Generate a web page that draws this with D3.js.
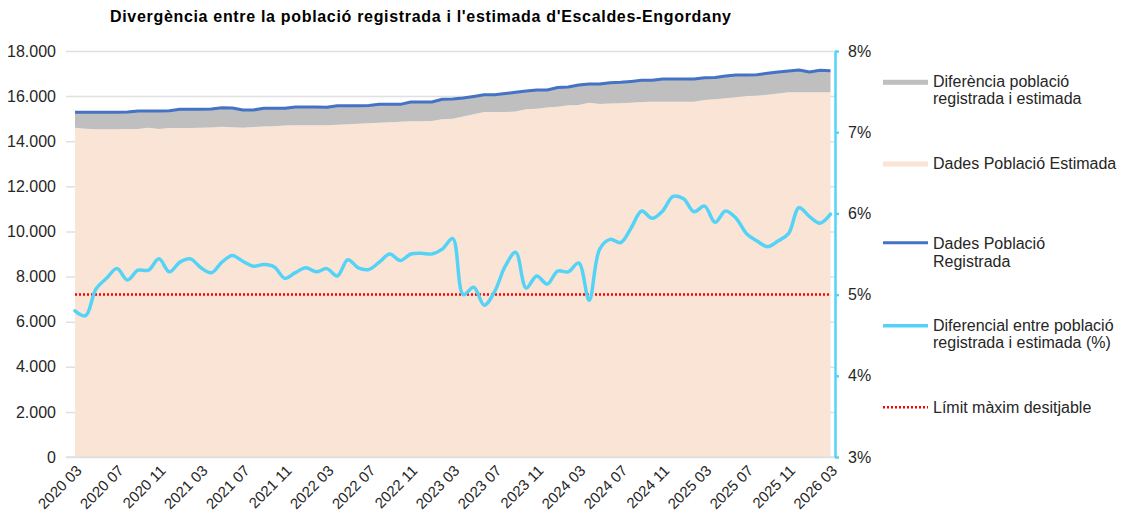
<!DOCTYPE html>
<html>
<head>
<meta charset="utf-8">
<script src="https://cdn.jsdelivr.net/npm/d3@7/dist/d3.min.js"></script>
<style>
  html, body { margin: 0; padding: 0; background: #fff; }
  svg { display: block; font-family: "Liberation Sans", Arial, sans-serif; }
</style>
</head>
<body>
<svg id="chart" width="1121" height="519"></svg>
<script>
// ---------- DATA ----------
const months = [
  "2020 03","2020 04","2020 05","2020 06","2020 07","2020 08","2020 09","2020 10","2020 11","2020 12",
  "2021 01","2021 02","2021 03","2021 04","2021 05","2021 06","2021 07","2021 08","2021 09","2021 10","2021 11","2021 12",
  "2022 01","2022 02","2022 03","2022 04","2022 05","2022 06","2022 07","2022 08","2022 09","2022 10","2022 11","2022 12",
  "2023 01","2023 02","2023 03","2023 04","2023 05","2023 06","2023 07","2023 08","2023 09","2023 10","2023 11","2023 12",
  "2024 01","2024 02","2024 03","2024 04","2024 05","2024 06","2024 07","2024 08","2024 09","2024 10","2024 11","2024 12",
  "2025 01","2025 02","2025 03","2025 04","2025 05","2025 06","2025 07","2025 08","2025 09","2025 10","2025 11","2025 12",
  "2026 01","2026 02","2026 03"
];

const tickLabels = ["2020 03","2020 07","2020 11","2021 03","2021 07","2021 11","2022 03","2022 07","2022 11",
  "2023 03","2023 07","2023 11","2024 03","2024 07","2024 11","2025 03","2025 07","2025 11","2026 03"];

// Dades Població Registrada
const registrada = [
  15280,15280,15280,15280,15280,15295,15340,15340,15340,15355,
  15415,15415,15420,15430,15480,15475,15385,15385,15460,15460,15460,15515,
  15515,15515,15505,15575,15575,15575,15585,15635,15635,15635,15740,15740,
  15740,15860,15870,15915,15985,16060,16060,16115,16170,16225,16270,16270,
  16380,16405,16495,16535,16535,16595,16610,16650,16700,16705,16760,16760,
  16760,16760,16815,16825,16890,16935,16935,16950,17010,17070,17115,17155,
  17070,17145,17125
];

// Dades Població Estimada
const estimada = [
  14600,14550,14530,14530,14535,14540,14540,14595,14540,14585,
  14585,14590,14595,14610,14640,14620,14600,14630,14650,14660,14695,14705,
  14710,14710,14705,14735,14755,14775,14795,14815,14840,14860,14885,14890,
  14895,14970,15000,15095,15195,15295,15295,15295,15315,15415,15435,15495,
  15530,15595,15605,15705,15650,15670,15680,15710,15740,15750,15750,15750,
  15750,15750,15825,15860,15900,15950,16005,16015,16060,16115,16170,16170,
  16170,16170,16170
];

// Diferencial entre població registrada i estimada (%)
const diferencial = [
  4.80,4.74,5.07,5.20,5.32,5.18,5.30,5.30,5.44,5.28,
  5.40,5.44,5.33,5.27,5.40,5.48,5.41,5.35,5.37,5.34,5.20,5.27,
  5.33,5.28,5.32,5.23,5.43,5.33,5.31,5.40,5.50,5.42,5.50,5.51,
  5.50,5.56,5.69,5.00,5.09,4.87,5.04,5.35,5.52,5.08,5.23,5.13,
  5.29,5.28,5.39,4.93,5.56,5.68,5.64,5.82,6.03,5.94,6.03,6.21,
  6.18,6.02,6.09,5.89,6.03,5.94,5.75,5.66,5.59,5.66,5.75,6.07,
  5.96,5.88,5.99
];

const limit = 5; // Límit màxim desitjable (%)

const leftTicks = [0,2000,4000,6000,8000,10000,12000,14000,16000,18000];
const rightTicks = [3,4,5,6,7,8];

const title = "Divergència entre la població registrada i l'estimada d'Escaldes-Engordany";
const legendItems = [
  {key:"diff", lines:["Diferència població","registrada i estimada"]},
  {key:"est",  lines:["Dades Població Estimada"]},
  {key:"reg",  lines:["Dades Població","Registrada"]},
  {key:"pct",  lines:["Diferencial entre població","registrada i estimada (%)"]},
  {key:"lim",  lines:["Límit màxim desitjable"]}
];

// ---------- STYLE ----------
const C = {
  est: "#FAE4D6", diff: "#BFBFBF", reg: "#4472C4", pct: "#55D3F6",
  lim: "#FF0000", grid: "#E0E0E0", text: "#262626"
};

// ---------- SCALES ----------
const svg = d3.select("#chart");
const x = d3.scalePoint().domain(months).range([75, 830.5]);
const yL = d3.scaleLinear().domain([0, 18000]).range([457, 51]);
const yR = d3.scaleLinear().domain([3, 8]).range([457, 51]);

const loc = d3.formatLocale({decimal: ",", thousands: ".", grouping: [3], currency: ["", "€"]});
const fmt = loc.format(",.0f");

// ---------- GRID / LEFT AXIS ----------
const gL = svg.append("g").attr("transform", "translate(66,0)")
  .call(d3.axisLeft(yL).tickValues(leftTicks).tickFormat(fmt)
    .tickSizeInner(-(835 - 66)).tickSizeOuter(0).tickPadding(10));
gL.select(".domain").remove();
gL.selectAll(".tick line").attr("stroke", C.grid).attr("stroke-width", 1.5);
gL.selectAll(".tick text").attr("fill", C.text).style("font-size", "16px")
  .style("font-family", "'Liberation Sans', Arial, sans-serif");

// ---------- AREAS ----------
const idx = d3.range(months.length);
svg.append("path")
  .attr("fill", C.est)
  .attr("d", d3.area().x(i => x(months[i])).y0(yL(0)).y1(i => yL(estimada[i]))(idx));
svg.append("path")
  .attr("fill", C.diff)
  .attr("d", d3.area().x(i => x(months[i])).y0(i => yL(estimada[i])).y1(i => yL(registrada[i]))(idx));

// zero line on top of area bottom
svg.append("line").attr("x1", 66).attr("x2", 835).attr("y1", yL(0)).attr("y2", yL(0))
  .attr("stroke", C.grid).attr("stroke-width", 1.5);

// ---------- REGISTERED LINE ----------
svg.append("path")
  .attr("fill", "none").attr("stroke", C.reg).attr("stroke-width", 3).attr("stroke-linejoin", "round")
  .attr("d", d3.line().x(i => x(months[i])).y(i => yL(registrada[i]))(idx));

// ---------- LIMIT LINE ----------
svg.append("line")
  .attr("x1", x(months[0])).attr("x2", x(months[months.length - 1]))
  .attr("y1", yR(limit)).attr("y2", yR(limit))
  .attr("stroke", C.lim).attr("stroke-width", 2.5).attr("stroke-dasharray", "2 2");

// ---------- PERCENT LINE ----------
svg.append("path")
  .attr("fill", "none").attr("stroke", C.pct).attr("stroke-width", 3.5)
  .attr("stroke-linejoin", "round").attr("stroke-linecap", "round")
  .attr("d", d3.line().x(i => x(months[i])).y(i => yR(diferencial[i])).curve(d3.curveCatmullRom.alpha(0.5))(idx));

// ---------- RIGHT AXIS ----------
const gR = svg.append("g").attr("transform", "translate(835,0)")
  .call(d3.axisRight(yR).tickValues(rightTicks).tickFormat(d => d + "%")
    .tickSizeInner(4).tickSizeOuter(0).tickPadding(9));
gR.select(".domain").attr("stroke", C.pct).attr("stroke-width", 2.5);
gR.selectAll(".tick line").attr("stroke", C.pct).attr("stroke-width", 2.5);
gR.selectAll(".tick text").attr("fill", C.text).style("font-size", "16px")
  .style("font-family", "'Liberation Sans', Arial, sans-serif");

// ---------- X AXIS LABELS ----------
const gX = svg.append("g");
gX.selectAll("text").data(tickLabels).join("text")
  .attr("transform", d => `translate(${x(d) + 4},${468}) rotate(-45)`)
  .attr("text-anchor", "end")
  .attr("dy", "0.35em")
  .attr("fill", C.text)
  .style("font-size", "15px")
  .text(d => d);

// ---------- TITLE ----------
svg.append("text").attr("x", 420.5).attr("y", 22).attr("text-anchor", "middle")
  .attr("fill", "#000").style("font-size", "16px").style("font-weight", "bold")
  .attr("textLength", 621).attr("lengthAdjust", "spacing")
  .text(title);

// ---------- LEGEND ----------
const legY = {diff: 82.3, est: 164, reg: 242.7, pct: 325.7, lim: 407.3};
const legBase = {diff: 87, est: 168.5, reg: 249.3, pct: 330.8, lim: 412.7};
const lg = svg.append("g");
legendItems.forEach(it => {
  const cy = legY[it.key];
  if (it.key === "diff" || it.key === "est") {
    lg.append("rect").attr("x", 883).attr("y", cy - 2.5).attr("width", 45).attr("height", 5)
      .attr("fill", C[it.key]);
  } else if (it.key === "lim") {
    lg.append("line").attr("x1", 883).attr("x2", 928).attr("y1", cy).attr("y2", cy)
      .attr("stroke", C.lim).attr("stroke-width", 2.5).attr("stroke-dasharray", "2 2");
  } else {
    lg.append("line").attr("x1", 883).attr("x2", 928).attr("y1", cy).attr("y2", cy)
      .attr("stroke", C[it.key]).attr("stroke-width", it.key === "pct" ? 3.5 : 3);
  }
  it.lines.forEach((ln, j) => {
    lg.append("text").attr("x", 933).attr("y", legBase[it.key] + j * 17.3)
      .attr("fill", C.text).style("font-size", "16px").text(ln);
  });
});
</script>
</body>
</html>
